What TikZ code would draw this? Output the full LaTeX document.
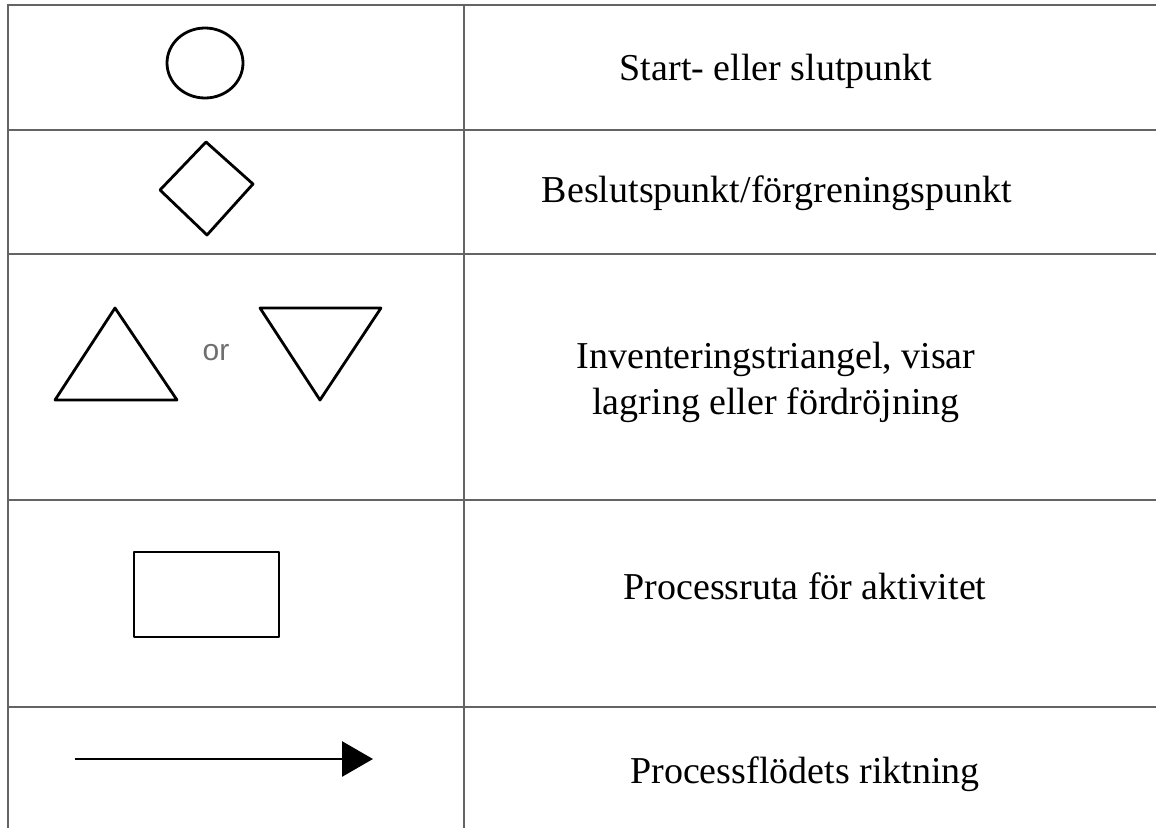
\documentclass[tikz,border=0pt]{standalone}
\usepackage{fontspec}
\setmainfont{Liberation Serif}
\newfontfamily\orfont{Liberation Sans}
\usetikzlibrary{arrows.meta,shapes.geometric}
\definecolor{gridc}{RGB}{100,100,100}
\definecolor{orc}{RGB}{110,110,110}
\tikzset{
  gridline/.style={draw=gridc, line width=2.6pt},
  symbol/.style={draw=black, line width=2.8pt, line join=round},
  label/.style={anchor=base, font=\fontsize{38}{46}\selectfont, align=center, inner sep=0pt},
}
\begin{document}
\begin{tikzpicture}[x=1pt,y=-1pt]
\useasboundingbox (0,0) rectangle (1156,828);
\fill[white] (0,0) rectangle (1156,828);
% table lines
\draw[gridline] (8,828) -- (8,5) -- (1156,5);
\draw[gridline] (464,5) -- (464,828);
\foreach \yy in {130,254,500,707} \draw[gridline] (8,\yy) -- (1156,\yy);
% symbols
\draw[symbol] (205,63) ellipse [x radius=38, y radius=35];
\draw[symbol] (206,142) -- (253,184) -- (207,235) -- (160,190) -- cycle;
\draw[symbol] (115,308) -- (177,400) -- (55,400) -- cycle;
\draw[symbol] (260,308) -- (381,308) -- (320,400) -- cycle;
\node[anchor=base, inner sep=0pt, text=orc, font=\orfont\fontsize{30}{36}\selectfont] (or) at (216,360) {or};
\draw[symbol] (134,552) rectangle (279,637);
\coordinate (a1) at (75,759);
\coordinate (a2) at (373,759);
\draw[draw=black, line width=2.8pt, -{Triangle[length=31pt,width=35pt]}] (a1) -- (a2);
% labels
\node[label] (t1) at (776,80) {Start- eller slutpunkt};
\node[label] (t2) at (777,202) {Beslutspunkt/förgreningspunkt};
\node[label] (t3) at (776,414) {Inventeringstriangel, visar\\lagring eller fördröjning};
\node[label] (t4) at (805,599) {Processruta för aktivitet};
\node[label] (t5) at (805,783) {Processflödets riktning};
\end{tikzpicture}
\end{document}
